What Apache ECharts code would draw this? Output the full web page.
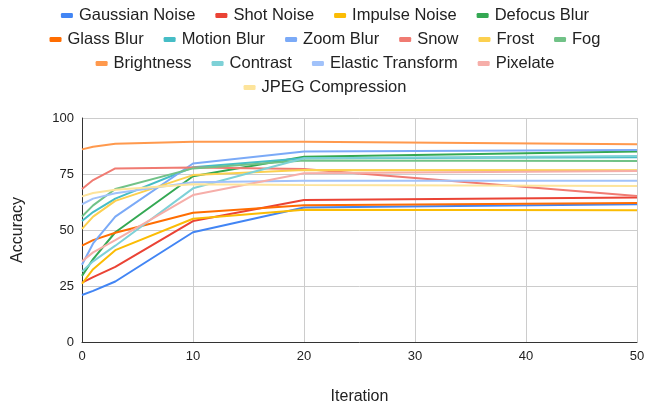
<!DOCTYPE html>
<html><head><meta charset="utf-8">
<script src="https://cdn.jsdelivr.net/npm/echarts@6/dist/echarts.min.js"></script>
<style>html,body{margin:0;padding:0;background:#fff}#c{width:650px;height:408px}</style>
</head><body><div id="c"></div>
<script>
const iterations = [0, 1, 3, 10, 20, 50];
const seriesNames = ["Gaussian Noise","Shot Noise","Impulse Noise","Defocus Blur","Glass Blur","Motion Blur","Zoom Blur","Snow","Frost","Fog","Brightness","Contrast","Elastic Transform","Pixelate","JPEG Compression"];
const gaussianNoise = [21, 22.8, 27, 49, 60, 61.5];
const shotNoise = [26.5, 29, 33.5, 54, 63.4, 64.5];
const impulseNoise = [26, 32.5, 41, 55, 59, 58.8];
const defocusBlur = [29.5, 37, 49, 74, 82.7, 85];
const glassBlur = [43, 45.5, 48.8, 57.7, 61, 62];
const motionBlur = [54, 58, 64, 78, 82, 82.5];
const zoomBlur = [34.5, 44, 56, 79.7, 85, 85.7];
const snow = [68.3, 72.3, 77.5, 77.9, 77.2, 65.2];
const frost = [50.5, 56, 63, 74.5, 76.8, 76.7];
const fog = [56, 61, 68.3, 77.5, 81, 80.8];
const brightness = [86, 87.2, 88.5, 89.4, 89.4, 88.3];
const contrast = [31.5, 36, 43, 68.6, 82, 83];
const elasticTransform = [61.5, 64, 66.4, 71.3, 72, 72];
const pixelate = [36, 40, 45.5, 65.6, 75.3, 76.3];
const jpegCompression = [65, 66.5, 68, 70.4, 70.1, 69.6];
const yTicks = [0, 25, 50, 75, 100];
const xTicks = [0, 10, 20, 30, 40, 50];

const allValues = [gaussianNoise, shotNoise, impulseNoise, defocusBlur, glassBlur, motionBlur, zoomBlur, snow, frost, fog, brightness, contrast, elasticTransform, pixelate, jpegCompression];
const colors = ["#4285f4","#ea4335","#fbbc04","#34a853","#ff6d01","#46bdc6","#7baaf7","#f07b72","#fcd04f","#71c287","#ff994d","#7ed1d7","#a1c2fa","#f6aea9","#fde49b"];
const legendRows = [seriesNames.slice(0,4), seriesNames.slice(4,10), seriesNames.slice(10,14), seriesNames.slice(14)];
const FONT = "Liberation Sans, Arial, sans-serif";

const chart = echarts.init(document.getElementById('c'), null, {renderer: 'canvas'});
const legendTops = [2, 26, 50, 74];
chart.setOption({
  animation: false,
  color: colors,
  legend: legendRows.map((row, i) => ({
    data: row, top: legendTops[i], left: 'center', icon: 'roundRect',
    itemWidth: 12, itemHeight: 5, itemGap: 20,
    textStyle: {fontFamily: FONT, fontSize: 16.5, color: '#222', padding: [0,0,0,1]}
  })),
  grid: {left: 82, right: 13, top: 118, bottom: 66, containLabel: false, outerBoundsMode: 'none'},
  xAxis: {
    type: 'value', min: xTicks[0], max: xTicks[xTicks.length-1], interval: 10,
    name: 'Iteration', nameLocation: 'middle', nameGap: 47,
    nameTextStyle: {fontFamily: FONT, fontSize: 16, color: '#222'},
    axisLine: {show: true, lineStyle: {color: '#333', width: 1}},
    axisTick: {show: false},
    axisLabel: {fontFamily: FONT, fontSize: 13, color: '#222', margin: 8},
    splitLine: {show: true, lineStyle: {color: '#ccc', width: 1}}
  },
  yAxis: {
    type: 'value', min: yTicks[0], max: yTicks[yTicks.length-1], interval: 25,
    name: 'Accuracy', nameLocation: 'middle', nameGap: 56, nameRotate: 90,
    nameTextStyle: {fontFamily: FONT, fontSize: 16, color: '#222'},
    axisLine: {show: true, lineStyle: {color: '#333', width: 1}},
    axisTick: {show: false},
    axisLabel: {fontFamily: FONT, fontSize: 13, color: '#222', margin: 8},
    splitLine: {show: true, lineStyle: {color: '#ccc', width: 1}}
  },
  series: seriesNames.map((n, i) => ({
    name: n, type: 'line', showSymbol: false, symbol: 'none',
    lineStyle: {width: 2},
    data: iterations.map((x, j) => [x, allValues[i][j]])
  }))
});
</script></body></html>
